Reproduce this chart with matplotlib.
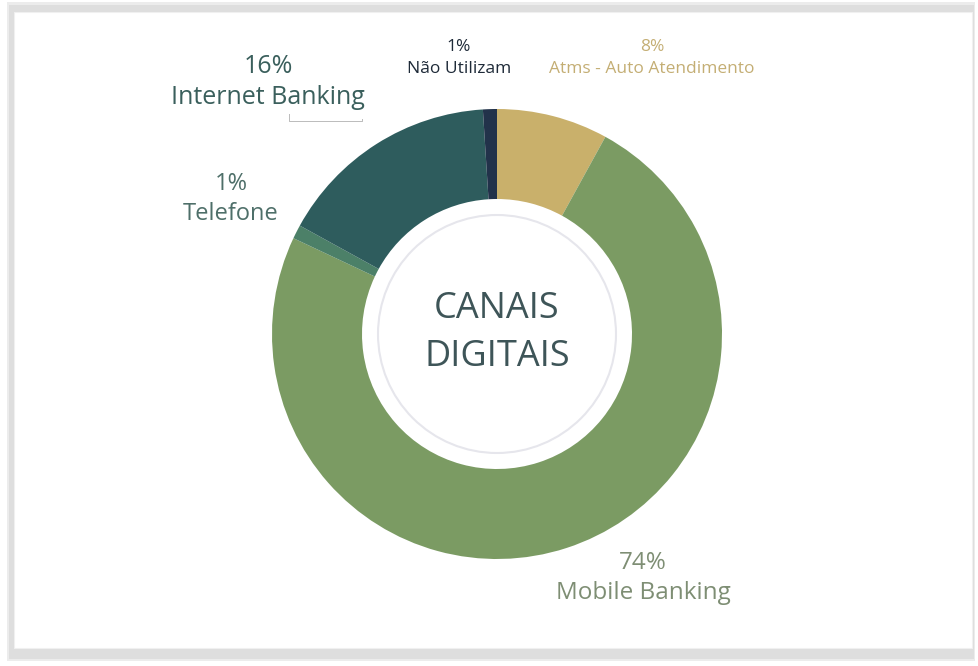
import matplotlib.pyplot as plt
from matplotlib.patches import Rectangle, Circle

plt.rcParams['font.family'] = ['Open Sans', 'DejaVu Sans']

# slices, clockwise from 12 o'clock
channels = ["Atms - Auto Atendimento", "Mobile Banking", "Telefone",
            "Internet Banking", "Não Utilizam"]
shares = [8, 74, 1, 16, 1]
slice_colors = ["#C9B06B", "#7B9B63", "#4C8068", "#2E5C5D", "#22324A"]
label_colors = ["#C4AE74", "#7E8E74", "#4E6F69", "#3A5F5C", "#1E2A38"]

W, H = 979, 666
fig = plt.figure(figsize=(W / 100, H / 100), dpi=100)
ax = fig.add_axes([0, 0, 1, 1])

# framed panel with soft shadow
ax.add_patch(Rectangle((7, 5), 968, 659, facecolor="#ECECEC", edgecolor="none", zorder=0))
ax.add_patch(Rectangle((9, 7), 965, 654, facecolor="#DEDEDE", edgecolor="none", zorder=0.2))
ax.add_patch(Rectangle((14, 18), 958, 636, facecolor="white", edgecolor="#F0F0F0", lw=0.8, zorder=0.5))

cx, cy = 497, H - 334
R, r_in = 225, 135
ax.pie(shares, colors=slice_colors, startangle=90, counterclock=False,
       center=(cx, cy), radius=R, wedgeprops=dict(width=R - r_in, edgecolor="none"))
ax.add_patch(Circle((cx, cy), 119, facecolor="none", edgecolor="#E6E6EC", lw=1.5, zorder=5))

ax.text(cx, cy + 1, "CANAIS\nDIGITAIS", ha="center", va="center", fontsize=26,
        color="#3E5558", linespacing=1.45, zorder=6)

# label positions (px, from top)
label_pos = [(652, 58), (643, 578), (231, 199), (268, 82), (459, 58)]
label_size = [12.5, 17.5, 17, 18, 12.5]
for name, pct, col, (x, y), fs in zip(channels, shares, label_colors, label_pos, label_size):
    ax.text(x, H - y, f"{pct}%\n{name}", ha="center", va="center", fontsize=fs,
            color=col, linespacing=1.3 if fs > 14 else 1.45)

ax.plot([289, 289, 362, 362], [H - 114, H - 121, H - 121, H - 119], color="#BBBBBB", lw=0.7)

ax.set_xlim(0, W)
ax.set_ylim(0, H)
ax.set_aspect("equal")
ax.axis("off")

fig.savefig("out.png", dpi=100)
